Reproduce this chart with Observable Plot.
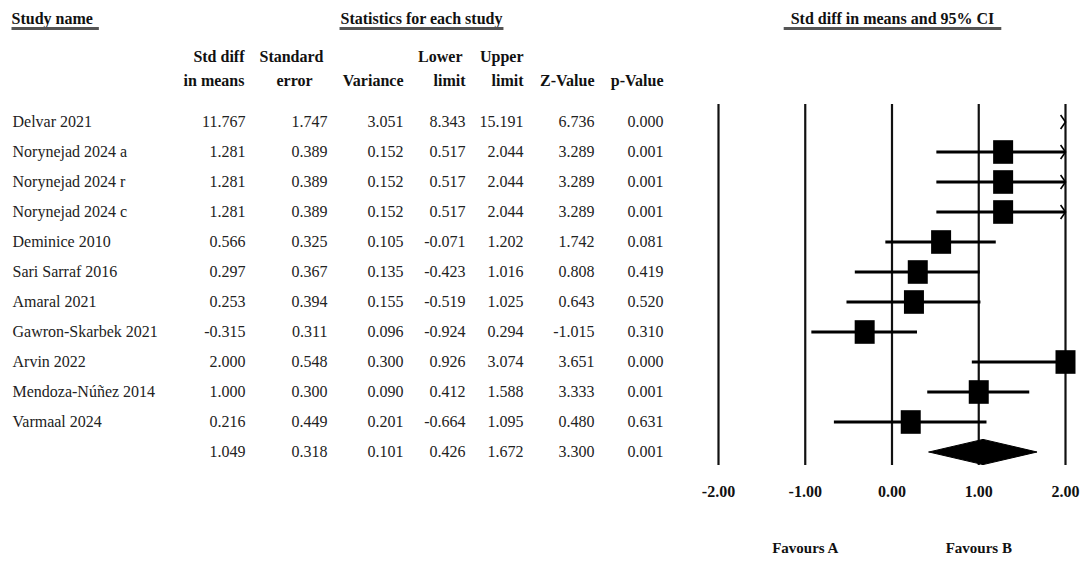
<!DOCTYPE html>
<html><head><meta charset="utf-8">
<script src="https://cdn.jsdelivr.net/npm/d3@7"></script>
<script src="https://cdn.jsdelivr.net/npm/@observablehq/plot@0.6"></script>
<style>
body{margin:0;background:#fff;}
</style></head><body><div id="chart"></div>
<script>
// ---- data (last entry = pooled summary row) ----
const studies = ["Delvar 2021","Norynejad 2024 a","Norynejad 2024 r","Norynejad 2024 c","Deminice 2010","Sari Sarraf 2016","Amaral 2021","Gawron-Skarbek 2021","Arvin 2022","Mendoza-Núñez 2014","Varmaal 2024",""];
const stdDiff  = [11.767,1.281,1.281,1.281,0.566,0.297,0.253,-0.315,2.000,1.000,0.216,1.049];
const stdErr   = [1.747,0.389,0.389,0.389,0.325,0.367,0.394,0.311,0.548,0.300,0.449,0.318];
const variance = [3.051,0.152,0.152,0.152,0.105,0.135,0.155,0.096,0.300,0.090,0.201,0.101];
const lowerLim = [8.343,0.517,0.517,0.517,-0.071,-0.423,-0.519,-0.924,0.926,0.412,-0.664,0.426];
const upperLim = [15.191,2.044,2.044,2.044,1.202,1.016,1.025,0.294,3.074,1.588,1.095,1.672];
const zValue   = [6.736,3.289,3.289,3.289,1.742,0.808,0.643,-1.015,3.651,3.333,0.480,3.300];
const pValue   = [0.000,0.001,0.001,0.001,0.081,0.419,0.520,0.310,0.000,0.001,0.631,0.001];
const xTicks = [-2,-1,0,1,2];
const favours = [{label:"Favours A", x:-1},{label:"Favours B", x:1}];

// ---- derived table ----
const nRows = studies.length;
const rows = studies.map((name,i)=>({i, name, est:stdDiff[i], se:stdErr[i], v:variance[i], lo:lowerLim[i], hi:upperLim[i], z:zValue[i], p:pValue[i], summary: i===nRows-1}));
const studyRows = rows.filter(d=>!d.summary);
const pooled = rows[nRows-1];
const xMin = d3.min(xTicks), xMax = d3.max(xTicks);
const diamond = [
  {x:pooled.lo, y:pooled.i},{x:pooled.est, y:pooled.i-0.42},
  {x:pooled.hi, y:pooled.i},{x:pooled.est, y:pooled.i+0.42},{x:pooled.lo, y:pooled.i}];

// ---- layout ----
const W = 1081, H = 562, X0 = 718, Y0 = 104;
const FONT = "'Liberation Serif', 'Times New Roman', serif";
const cols = [
  {key:"est", right:245},{key:"se", right:327},{key:"v", right:403},
  {key:"lo", right:465},{key:"hi", right:523},{key:"z", right:594},{key:"p", right:663}];
const headers = [
  ["Std diff",244,56,"end"],["in means",244,80,"end"],
  ["Standard",291,56,"middle"],["error",294,80,"middle"],
  ["Variance",403,80,"end"],
  ["Lower",462,56,"end"],["limit",465,80,"end"],
  ["Upper",523,56,"end"],["limit",523,80,"end"],
  ["Z-Value",594,80,"end"],["p-Value",663,80,"end"]];
// [text, x, y, anchor, underline pad left, underline pad right]
const headings = [["Study name",11,18,"start",0,6],["Statistics for each study",421,18,"middle",1,1],["Std diff in means and 95% CI",892,18,"middle",7,7]];

const rectSym = {draw(ctx,size){const r=Math.sqrt(size/Math.PI); ctx.rect(-r,-r*1.18,2*r,2*r*1.18);}};
const chevron = {draw(ctx,size){const r=Math.sqrt(size/Math.PI); ctx.moveTo(-0.7*r,-r); ctx.lineTo(0,0); ctx.lineTo(-0.7*r,r);}};

const hdr = (arr, extra) => arr.map(([t,x,y,a]) => Plot.text([t], {frameAnchor:"top-left", dx:x-X0, dy:y-Y0, textAnchor:a, lineAnchor:"middle", fontWeight:"bold", fontSize:16, fill:"#111", ...extra}));

const plot = Plot.plot({
  width: W, height: H,
  marginLeft: X0, marginRight: W-1065, marginTop: Y0, marginBottom: H-465,
  style: {fontFamily: FONT, fontSize: "16px", background: "#fff", color:"#111"},
  x: {domain:[xMin,xMax], range:[X0,1065], axis:null, label:null},
  y: {domain:[0,nRows-1], range:[121.5,451.5], axis:null, label:null},
  marks: [
    // table
    Plot.text(rows, {y:"i", text:"name", frameAnchor:"left", textAnchor:"start", dx:12-X0, fontSize:16, fill:"#222"}),
    ...cols.map(c => Plot.text(rows, {y:"i", text:d=>d[c.key].toFixed(3), frameAnchor:"left", textAnchor:"end", dx:c.right-X0, fontSize:16, fill:"#222"})),
    ...hdr(headers, {}),
    ...hdr(headings, {}),
    // forest plot
    Plot.ruleX(xTicks, {stroke:"#111", strokeWidth:2.2}),
    Plot.ruleY(studyRows, {y:"i", x1:"lo", x2:"hi", stroke:"#000", strokeWidth:3.2, clip:true}),
    Plot.dot(studyRows.filter(d=>d.hi>xMax), {x:()=>xMax, y:"i", r:7, symbol:chevron, stroke:"#000", fill:"none", strokeWidth:1.6}),
    Plot.dot(studyRows.filter(d=>d.est>=xMin && d.est<=xMax), {x:"est", y:"i", r:10, symbol:rectSym, fill:"#000", stroke:"none"}),
    Plot.line(diamond, {x:"x", y:"y", fill:"#000", stroke:"#000", strokeWidth:1}),
    Plot.axisX({ticks:xTicks, tickFormat:d=>d.toFixed(2), tickSize:0, tickPadding:20, fontWeight:"bold", fontSize:16, fill:"#111", label:null}),
    Plot.text(favours, {x:"x", text:"label", frameAnchor:"bottom", dy:548-465, lineAnchor:"middle", fontWeight:"bold", fontSize:15, fill:"#111"})
  ]
});
document.getElementById("chart").appendChild(plot);

// underline the three section headings
const ns = "http://www.w3.org/2000/svg";
plot.querySelectorAll("text").forEach(t => {
  const h = headings.find(h => h[0] === t.textContent);
  if (!h) return;
  const b = t.getBBox();
  const m = t.getCTM();
  const x1 = b.x + (m ? m.e : 0) - h[4], x2 = b.x + b.width + (m ? m.e : 0) + h[5];
  const ln = document.createElementNS(ns, "line");
  ln.setAttribute("x1", x1); ln.setAttribute("x2", x2);
  ln.setAttribute("y1", 28.5); ln.setAttribute("y2", 28.5);
  ln.setAttribute("stroke", "#555"); ln.setAttribute("stroke-width", 3);
  plot.appendChild(ln);
});
</script></body></html>
